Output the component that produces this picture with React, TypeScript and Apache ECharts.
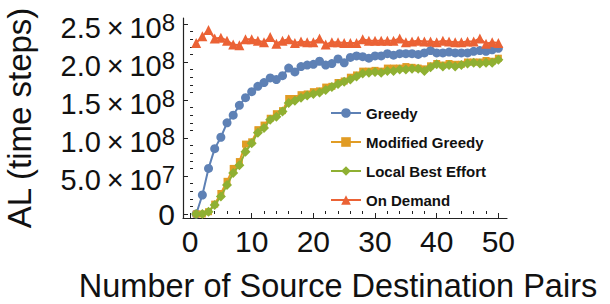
import React, { useEffect, useRef } from "react";
import * as echarts from "echarts";

const pairs = [1, 2, 3, 4, 5, 6, 7, 8, 9, 10, 11, 12, 13, 14, 15, 16, 17, 18, 19, 20, 21, 22, 23, 24, 25, 26, 27, 28, 29, 30, 31, 32, 33, 34, 35, 36, 37, 38, 39, 40, 41, 42, 43, 44, 45, 46, 47, 48, 49, 50];

// values in units of 1e8 time steps
const greedy = [0.0, 0.25, 0.6, 0.86, 1.01, 1.2, 1.3, 1.43, 1.53, 1.61, 1.68, 1.73, 1.79, 1.77, 1.82, 1.92, 1.87, 1.94, 1.96, 1.97, 2.01, 1.96, 1.98, 2.04, 1.99, 2.06, 2.08, 2.07, 2.05, 2.08, 2.08, 2.11, 2.09, 2.11, 2.11, 2.11, 2.1, 2.12, 2.15, 2.12, 2.12, 2.13, 2.12, 2.12, 2.12, 2.14, 2.15, 2.14, 2.16, 2.18];
const modifiedGreedy = [0.0, 0.0, 0.03, 0.13, 0.27, 0.43, 0.6, 0.69, 0.92, 0.95, 1.11, 1.17, 1.26, 1.32, 1.36, 1.52, 1.52, 1.57, 1.58, 1.61, 1.62, 1.67, 1.68, 1.73, 1.75, 1.8, 1.83, 1.88, 1.88, 1.89, 1.88, 1.92, 1.92, 1.92, 1.94, 1.93, 1.92, 1.91, 1.95, 1.98, 1.96, 1.98, 1.97, 1.97, 2.0, 2.0, 2.0, 2.02, 2.01, 2.05];
const localBestEffort = [0.0, 0.0, 0.03, 0.12, 0.23, 0.38, 0.54, 0.64, 0.82, 0.93, 1.07, 1.13, 1.24, 1.28, 1.35, 1.46, 1.49, 1.53, 1.56, 1.58, 1.6, 1.63, 1.67, 1.71, 1.74, 1.77, 1.81, 1.85, 1.86, 1.87, 1.86, 1.88, 1.88, 1.9, 1.9, 1.91, 1.91, 1.88, 1.93, 1.97, 1.94, 1.96, 1.94, 1.96, 1.98, 1.99, 1.98, 1.99, 1.99, 2.03];
const onDemand = [2.25, 2.34, 2.42, 2.31, 2.32, 2.28, 2.23, 2.22, 2.3, 2.3, 2.28, 2.26, 2.33, 2.24, 2.28, 2.3, 2.25, 2.27, 2.26, 2.26, 2.31, 2.23, 2.26, 2.26, 2.25, 2.25, 2.25, 2.3, 2.28, 2.28, 2.28, 2.28, 2.28, 2.31, 2.26, 2.27, 2.28, 2.27, 2.27, 2.26, 2.28, 2.27, 2.26, 2.26, 2.27, 2.27, 2.31, 2.24, 2.26, 2.25];

const xMajorTicks = [0, 10, 20, 30, 40, 50];
const xMinorTicks = [2, 4, 6, 8, 12, 14, 16, 18, 22, 24, 26, 28, 32, 34, 36, 38, 42, 44, 46, 48];
const yMajorTicks = [0, 5e7, 1e8, 1.5e8, 2e8, 2.5e8];
const yMinorTicks = [1e7, 2e7, 3e7, 4e7, 6e7, 7e7, 8e7, 9e7, 1.1e8, 1.2e8, 1.3e8, 1.4e8, 1.6e8, 1.7e8, 1.8e8, 1.9e8, 2.1e8, 2.2e8, 2.3e8, 2.4e8];
const yTickLabels: Record<string, string> = {
  "0": "{z|0}",
  "50000000": "{m|5.0\u2009\u00d7\u200910}{e|7}",
  "100000000": "{m|1.0\u2009\u00d7\u200910}{e|8}",
  "150000000": "{m|1.5\u2009\u00d7\u200910}{e|8}",
  "200000000": "{m|2.0\u2009\u00d7\u200910}{e|8}",
  "250000000": "{m|2.5\u2009\u00d7\u200910}{e|8}",
};

const seriesNames = ["Greedy", "Modified Greedy", "Local Best Effort", "On Demand"];
const seriesColors = ["#5E81B5", "#E19C24", "#8FB032", "#EB6235"];

const FONT = "'Liberation Sans', Arial, Helvetica, sans-serif";

export default function App() {
  const ref = useRef<HTMLDivElement>(null);
  useEffect(() => {
    if (!ref.current) return;
    const chart = echarts.init(ref.current, null, { renderer: "svg" });
    const toPts = (vals: number[]) => vals.map((v, i) => [pairs[i], v * 1e8]);
    const allVals = [greedy, modifiedGreedy, localBestEffort, onDemand];
    const symbols = ["circle", "rect", "diamond", "triangle"];
    const sizes = [9, 7, 10, 10];
    const xMin = -1.14;
    const xMax = 51.4;
    const yMin = -0.0526e8;
    const yMax = 2.579e8;
    const axisCol = "#222";
    chart.setOption({
      animation: false,
      grid: { left: 183, right: 103, top: 18, bottom: 86, containLabel: false, outerBoundsMode: "none" },
      legend: {
        orient: "vertical",
        left: 325,
        top: 99,
        itemWidth: 30,
        itemHeight: 12,
        itemGap: 11,
        data: seriesNames,
        textStyle: { fontFamily: FONT, fontSize: 15, fontWeight: "bold", color: "#111", lineHeight: 18 },
      },
      xAxis: [
        {
          type: "value",
          min: xMin,
          max: xMax,
          name: "Number of Source Destination Pairs",
          nameLocation: "middle",
          nameGap: 52,
          nameTextStyle: { fontFamily: FONT, fontSize: 32.5, lineHeight: 32, color: "#111", padding: [0, 14, 0, 0] },
          axisLine: { show: true, onZero: false, lineStyle: { color: axisCol, width: 1.2 } },
          axisTick: { show: true, inside: true, length: 5, customValues: xMajorTicks, lineStyle: { color: axisCol } },
          axisLabel: { show: true, customValues: xMajorTicks, fontFamily: FONT, fontSize: 30, color: "#111", margin: 8 },
          splitLine: { show: false },
        },
        {
          type: "value",
          min: xMin,
          max: xMax,
          position: "bottom",
          axisLine: { show: false },
          axisTick: { show: true, inside: true, length: 3, customValues: xMinorTicks, lineStyle: { color: axisCol } },
          axisLabel: { show: false },
          splitLine: { show: false },
        },
      ],
      yAxis: [
        {
          type: "value",
          min: yMin,
          max: yMax,
          name: "AL (time steps)",
          nameLocation: "middle",
          nameGap: 147,
          nameTextStyle: { fontFamily: FONT, fontSize: 33, lineHeight: 33, color: "#111" },
          axisLine: { show: true, onZero: false, lineStyle: { color: axisCol, width: 1.2 } },
          axisTick: { show: true, inside: true, length: 5, customValues: yMajorTicks, lineStyle: { color: axisCol } },
          axisLabel: {
            show: true,
            customValues: yMajorTicks,
            margin: 8,
            formatter: (v: number) => yTickLabels[String(Math.round(v))] ?? "",
            rich: {
              z: { fontFamily: FONT, fontSize: 30, color: "#111" },
              m: { fontFamily: FONT, fontSize: 29, color: "#111", verticalAlign: "bottom" },
              e: { fontFamily: FONT, fontSize: 24, color: "#111", verticalAlign: "bottom", padding: [5, 0, 8, 0] },
            },
          },
          splitLine: { show: false },
        },
        {
          type: "value",
          min: yMin,
          max: yMax,
          position: "left",
          axisLine: { show: false },
          axisTick: { show: true, inside: true, length: 3, customValues: yMinorTicks, lineStyle: { color: axisCol } },
          axisLabel: { show: false },
          splitLine: { show: false },
        },
      ],
      series: allVals.map((vals, k) => ({
        name: seriesNames[k],
        type: "line",
        xAxisIndex: 0,
        yAxisIndex: 0,
        data: toPts(vals),
        symbol: symbols[k],
        symbolSize: sizes[k],
        showAllSymbol: true,
        lineStyle: { color: seriesColors[k], width: 2 },
        itemStyle: { color: seriesColors[k] },
        z: 2 + k,
      })),
    });
    return () => chart.dispose();
  }, []);
  return <div ref={ref} style={{ position: "absolute", left: 0, top: 0, width: 610, height: 304 }} />;
}
